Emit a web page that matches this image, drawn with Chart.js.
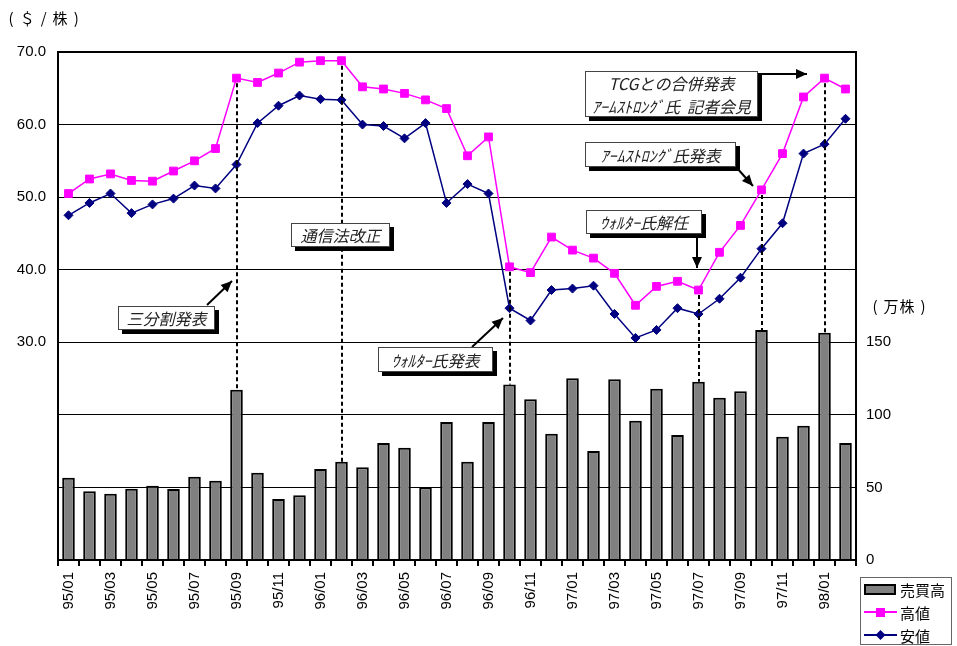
<!DOCTYPE html>
<html lang="ja">
<head>
<meta charset="utf-8">
<script src="https://cdn.jsdelivr.net/npm/chart.js"></script>
<style>
  body { margin: 0; background: #fff; }
  #wrap { width: 957px; height: 646px; }
</style>
</head>
<body>
<div id="wrap"><canvas id="kabukaChart" width="957" height="646"></canvas></div>
<script>
  // 月次データ (95/01 - 98/02)
  const months = [
    '95/01', '95/02', '95/03', '95/04', '95/05', '95/06', '95/07', '95/08', '95/09', '95/10', '95/11', '95/12',
    '96/01', '96/02', '96/03', '96/04', '96/05', '96/06', '96/07', '96/08', '96/09', '96/10', '96/11', '96/12',
    '97/01', '97/02', '97/03', '97/04', '97/05', '97/06', '97/07', '97/08', '97/09', '97/10', '97/11', '97/12',
    '98/01', '98/02'
  ];
  // 高値 ($/株)
  const takane = [
    50.5, 52.5, 53.2, 52.3, 52.2, 53.6, 55.0, 56.7, 66.4, 65.8, 67.1, 68.6,
    68.8, 68.8, 65.2, 64.9, 64.3, 63.4, 62.2, 55.7, 58.3, 40.4, 39.6, 44.5,
    42.7, 41.6, 39.5, 35.1, 37.7, 38.4, 37.2, 42.4, 46.1, 51.0, 56.0, 63.8,
    66.4, 64.9
  ];
  // 安値 ($/株)
  const yasune = [
    47.5, 49.2, 50.5, 47.8, 49.0, 49.8, 51.6, 51.2, 54.5, 60.2, 62.6, 64.0,
    63.5, 63.4, 60.0, 59.8, 58.1, 60.2, 49.2, 51.8, 50.5, 34.7, 33.0, 37.2,
    37.4, 37.8, 33.9, 30.6, 31.7, 34.7, 33.9, 36.0, 38.9, 42.9, 46.4, 56.0,
    57.3, 60.8
  ];
  // 売買高 (万株)
  const baibai = [
    56.7, 47.3, 45.7, 49.1, 51.2, 48.9, 57.4, 54.6, 117.3, 60.1, 42.0, 44.6,
    62.7, 67.7, 63.9, 80.6, 77.4, 50.1, 95.1, 67.7, 95.1, 120.9, 110.7, 87.0,
    125.2, 75.1, 124.5, 96.0, 118.0, 86.1, 122.8, 111.8, 116.2, 158.5, 85.0, 92.5,
    156.6, 80.6
  ];
  const leftTicks = [30, 40, 50, 60, 70];
  const rightTicks = [0, 50, 100, 150];

  // 出来事の吹き出し
  const notes = [
    { lines: ['三分割発表'], box: [118, 306, 97, 24], arrow: [207, 305, 232, 281] },
    { lines: ['通信法改正'], box: [291, 223, 99, 24] },
    { lines: ['ｳｫﾙﾀｰ氏発表'], box: [378, 347, 115, 25], arrow: [472, 347, 503, 318] },
    { lines: ['ｳｫﾙﾀｰ氏解任'], box: [586, 210, 116, 24], arrow: [697, 235, 697, 268] },
    { lines: ['ｱｰﾑｽﾄﾛﾝｸﾞ氏発表'], box: [585, 142, 151, 25], arrow: [737, 168, 753, 186] },
    { lines: ['TCGとの合併発表', 'ｱｰﾑｽﾄﾛﾝｸﾞ氏  記者会見'], box: [585, 71, 173, 46], arrow: [758, 74, 807, 74] }
  ];
  // 点線を引く月
  const eventIdx = [8, 13, 21, 30, 33, 36];

  const jpFont = '"Noto Sans CJK JP", sans-serif';

  function arrowHead(ctx, x1, y1, x2, y2) {
    const a = Math.atan2(y2 - y1, x2 - x1);
    ctx.beginPath();
    ctx.moveTo(x2, y2);
    ctx.lineTo(x2 - 11 * Math.cos(a) + 5 * Math.sin(a), y2 - 11 * Math.sin(a) - 5 * Math.cos(a));
    ctx.lineTo(x2 - 11 * Math.cos(a) - 5 * Math.sin(a), y2 - 11 * Math.sin(a) + 5 * Math.cos(a));
    ctx.closePath();
    ctx.fill();
  }

  const extras = {
    id: 'extras',
    afterDatasetsDraw(chart) {
      const ctx = chart.ctx;
      const area = chart.chartArea;
      const x = chart.scales.x, y = chart.scales.y, y2 = chart.scales.y2;
      ctx.save();

      // 枠
      ctx.strokeStyle = '#000';
      ctx.lineWidth = 2;
      ctx.strokeRect(area.left, area.top, area.right - area.left, area.bottom - area.top);

      // 高値から売買高までの点線
      ctx.setLineDash([4, 3]);
      ctx.lineWidth = 2;
      eventIdx.forEach(function (i) {
        const px = Math.round(x.getPixelForValue(i));
        ctx.beginPath();
        ctx.moveTo(px, y.getPixelForValue(takane[i]) + 5);
        ctx.lineTo(px, y2.getPixelForValue(baibai[i]));
        ctx.stroke();
      });
      ctx.setLineDash([]);

      // 吹き出し
      notes.forEach(function (n) {
        const [bx, by, bw, bh] = n.box;
        if (n.arrow) {
          const [ax1, ay1, ax2, ay2] = n.arrow;
          ctx.strokeStyle = '#000';
          ctx.fillStyle = '#000';
          ctx.lineWidth = 2;
          ctx.beginPath();
          ctx.moveTo(ax1, ay1);
          ctx.lineTo(ax2, ay2);
          ctx.stroke();
          arrowHead(ctx, ax1, ay1, ax2, ay2);
        }
        ctx.fillStyle = '#000';
        ctx.fillRect(bx + 4, by + 4, bw, bh);
        ctx.fillStyle = '#fff';
        ctx.fillRect(bx, by, bw, bh);
        ctx.strokeStyle = '#444';
        ctx.lineWidth = 1;
        ctx.strokeRect(bx + 0.5, by + 0.5, bw - 1, bh - 1);
        ctx.fillStyle = '#222';
        ctx.font = 'italic 16px ' + jpFont;
        ctx.textAlign = 'center';
        ctx.textBaseline = 'middle';
        const lh = bh / n.lines.length;
        n.lines.forEach(function (t, k) {
          ctx.fillText(t, bx + bw / 2, by + lh * k + lh / 2 + 1);
        });
      });

      // 単位
      ctx.fillStyle = '#000';
      ctx.font = '15px ' + jpFont;
      ctx.textAlign = 'center';
      ctx.textBaseline = 'middle';
      ['(', '＄', '/', '株', ')'].forEach(function (c, k) {
        ctx.fillText(c, 11 + k * 16.3, 18);
      });
      ['(', '万', '株', ')'].forEach(function (c, k) {
        ctx.fillText(c, 875 + k * 16, 306);
      });

      // 凡例
      const ds = chart.data.datasets;
      ctx.fillStyle = '#fff';
      ctx.fillRect(860, 577, 92, 68);
      ctx.strokeStyle = '#666';
      ctx.lineWidth = 1;
      ctx.strokeRect(860.5, 577.5, 91, 67);
      const rows = [589, 612, 635];
      // 売買高
      ctx.fillStyle = ds[0].backgroundColor;
      ctx.fillRect(865, rows[0] - 4, 30, 9);
      ctx.strokeStyle = '#000';
      ctx.lineWidth = 2;
      ctx.strokeRect(865, rows[0] - 4, 30, 9);
      // 高値
      ctx.strokeStyle = ds[1].borderColor;
      ctx.lineWidth = 2;
      ctx.beginPath(); ctx.moveTo(864, rows[1]); ctx.lineTo(897, rows[1]); ctx.stroke();
      ctx.fillStyle = ds[1].pointBackgroundColor;
      ctx.fillRect(876, rows[1] - 4, 9, 9);
      // 安値
      ctx.strokeStyle = ds[2].borderColor;
      ctx.beginPath(); ctx.moveTo(864, rows[2]); ctx.lineTo(897, rows[2]); ctx.stroke();
      ctx.fillStyle = ds[2].pointBackgroundColor;
      ctx.beginPath();
      ctx.moveTo(880.5, rows[2] - 5); ctx.lineTo(885.5, rows[2]);
      ctx.lineTo(880.5, rows[2] + 5); ctx.lineTo(875.5, rows[2]);
      ctx.closePath(); ctx.fill();

      ctx.fillStyle = '#000';
      ctx.font = '15px ' + jpFont;
      ctx.textAlign = 'left';
      ds.forEach(function (d, k) {
        ctx.fillText(d.label, 900, rows[k] + 1);
      });

      ctx.restore();
    }
  };

  Chart.defaults.font.family = 'Arial, "Liberation Sans", sans-serif';
  Chart.defaults.font.size = 15;
  Chart.defaults.color = '#000';

  const ctx = document.getElementById('kabukaChart').getContext('2d');
  new Chart(ctx, {
    type: 'bar',
    data: {
      labels: months,
      datasets: [
        {
          type: 'bar',
          label: '売買高',
          data: baibai,
          yAxisID: 'y2',
          backgroundColor: '#808080',
          borderColor: '#000',
          borderWidth: 2,
          categoryPercentage: 1.0,
          barPercentage: 0.6,
          order: 3
        },
        {
          type: 'line',
          label: '高値',
          data: takane,
          yAxisID: 'y',
          borderColor: '#FF00FF',
          backgroundColor: '#FF00FF',
          pointBackgroundColor: '#FF00FF',
          pointBorderColor: '#FF00FF',
          borderWidth: 1.5,
          pointStyle: 'rect',
          pointRadius: 5.5,
          pointBorderWidth: 1,
          tension: 0,
          order: 2
        },
        {
          type: 'line',
          label: '安値',
          data: yasune,
          yAxisID: 'y',
          borderColor: '#000080',
          backgroundColor: '#000080',
          pointBackgroundColor: '#000080',
          pointBorderColor: '#000080',
          borderWidth: 1.5,
          pointStyle: 'rectRot',
          pointRadius: 4.5,
          pointBorderWidth: 1,
          tension: 0,
          order: 1
        }
      ]
    },
    options: {
      responsive: false,
      animation: false,
      layout: { padding: { top: 52, left: 0, right: 0, bottom: 0 } },
      plugins: {
        legend: { display: false },
        tooltip: { enabled: false }
      },
      scales: {
        x: {
          offset: true,
          grid: { drawOnChartArea: false, offset: true, color: '#000', lineWidth: 2, tickLength: 6 },
          border: { display: false },
          ticks: {
            autoSkip: false,
            minRotation: 90,
            maxRotation: 90,
            padding: 6,
            callback: function (v, i) { return i % 2 === 0 ? months[i] : ''; }
          },
          afterFit: function (s) { s.height = 86; }
        },
        y: {
          position: 'left',
          min: 0,
          max: 70,
          grid: { color: '#000', lineWidth: 1, drawTicks: false },
          border: { display: false },
          ticks: {
            stepSize: 10,
            padding: 12,
            callback: function (v) { return leftTicks.includes(v) ? v.toFixed(1) : ''; }
          },
          afterFit: function (s) { s.width = 58; }
        },
        y2: {
          position: 'right',
          min: 0,
          max: 350,
          grid: { drawOnChartArea: false, drawTicks: false },
          border: { display: false },
          ticks: {
            stepSize: 50,
            padding: 10,
            callback: function (v) { return rightTicks.includes(v) ? String(v) : ''; }
          },
          afterFit: function (s) { s.width = 101; }
        }
      }
    },
    plugins: [extras]
  });
</script>
</body>
</html>
